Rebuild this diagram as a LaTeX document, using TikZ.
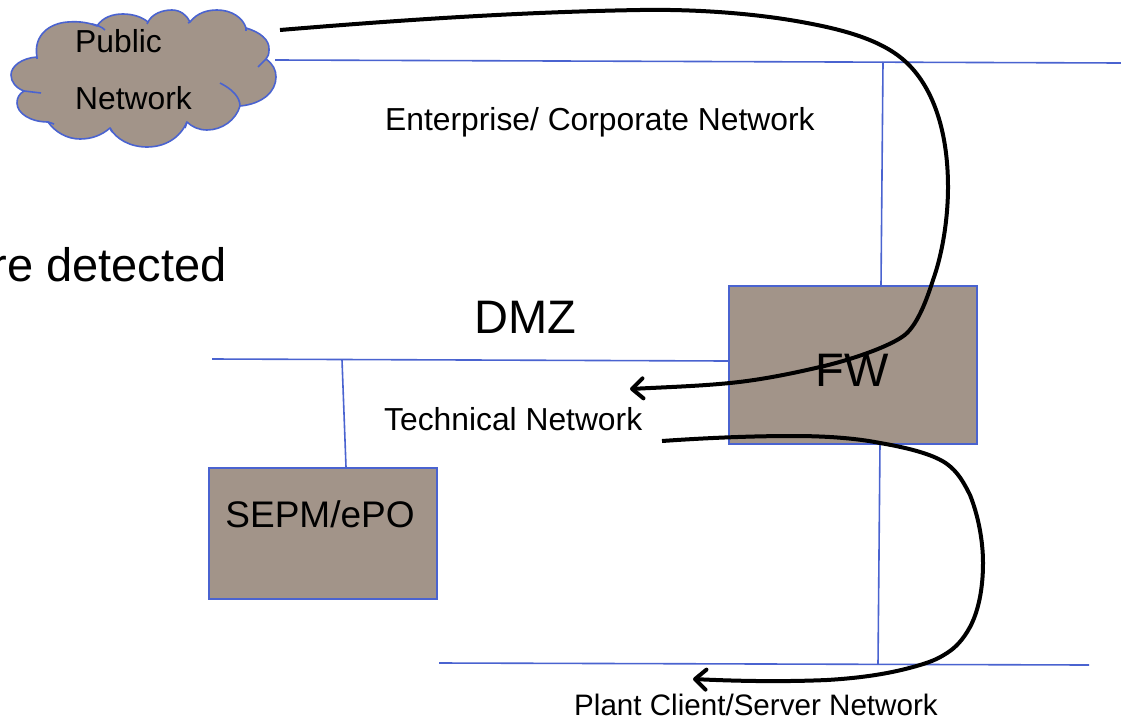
\documentclass[tikz,border=0pt]{standalone}
\usepackage{fontspec}
\setmainfont{Liberation Sans}
\usetikzlibrary{arrows.meta}
\definecolor{boxfill}{HTML}{A29489}
\definecolor{netblue}{HTML}{4A63D0}
\begin{document}
\begin{tikzpicture}[x=1pt,y=-1pt,
  net/.style={draw=netblue,line width=1.6pt},
  box/.style={draw=netblue,line width=2pt,fill=boxfill,anchor=north west,inner sep=0pt},
  flow/.style={draw=black,line width=4pt,-{Straight Barb[length=11pt,width=20pt,line width=4pt,round]}},
  lbl/.style={inner sep=0pt,text=black,font=\fontsize{31.8}{34}\selectfont},
  big/.style={inner sep=0pt,text=black,font=\fontsize{47}{52}\selectfont}]
\useasboundingbox (0,0) rectangle (1121,720);
% coordinates
\coordinate (entA) at (275,60);
\coordinate (entB) at (1121,63);
\coordinate (entT) at (883,62);
\coordinate (dmzA) at (212,359);
\coordinate (dmzT) at (342,360);
\coordinate (plA) at (439,663);
\coordinate (plB) at (1089,665);
\coordinate (plT) at (878,664);
% links
\node[box,minimum width=248pt,minimum height=158pt] (fw) at (728,285) {};
\node[box,minimum width=228pt,minimum height=131pt] (sepm) at (208,467) {};
\draw[net] (entA) -- (entB);
\draw[net] (entT) -- (881,285);
\draw[net] (dmzA) -- (728,361);
\draw[net] (dmzT) -- (346,467);
\draw[net] (880,443) -- (plT);
\draw[net] (plA) -- (plB);
% cloud
\draw[net,fill=boxfill,line join=round]
  (37,57) .. controls (33,35) and (50,23) .. (68,22)
  .. controls (80,21) and (90,23) .. (97,26)
  .. controls (103,17) and (113,14) .. (123,14)
  .. controls (133,14) and (142,17) .. (148,22)
  .. controls (152,14) and (162,10) .. (172,10)
  .. controls (180,10) and (187,15) .. (190,22)
  .. controls (197,13) and (207,10) .. (217,10)
  .. controls (232,10) and (243,18) .. (246,28)
  .. controls (260,32) and (270,40) .. (269,50)
  .. controls (269,54) and (268,57) .. (266,59)
  .. controls (273,64) and (276,70) .. (276,77)
  .. controls (276,92) and (262,104) .. (240,106)
  .. controls (236,120) and (222,130) .. (207,130)
  .. controls (199,130) and (192,127) .. (187,122)
  .. controls (180,138) and (165,147) .. (147,147)
  .. controls (130,147) and (116,139) .. (110,128)
  .. controls (102,135) and (92,139) .. (80,139)
  .. controls (67,139) and (55,132) .. (48,122)
  .. controls (30,122) and (17,113) .. (17,103)
  .. controls (17,98) and (19,94) .. (24,91)
  .. controls (16,88) and (11,82) .. (11,75)
  .. controls (11,66) and (22,58) .. (37,57) -- cycle;
\draw[net] (37,57) -- (37,59);
\draw[net] (92,24) .. controls (97,25) and (102,27) .. (105,30);
\draw[net] (148,22) -- (147,24);
\draw[net] (190,22) -- (188,23);
\draw[net] (246,28) -- (246,31);
\draw[net] (266,59) -- (258,67);
\draw[net] (220,83) .. controls (232,89) and (240,97) .. (240,106);
\draw[net] (187,122) -- (185,128);
\draw[net] (110,128) -- (112,132);
\draw[net] (48,122) -- (54,124);
\draw[net] (24,91) -- (41,93);
% labels
\node[lbl,anchor=base west] (pub) at (75,52) {Public};
\node[lbl,anchor=base west] (netw) at (75,109) {Network};
\node[lbl,anchor=base west] (ent) at (385,130) {Enterprise/ Corporate Network};
\node[big,anchor=base east] (det) at (227,281) {re detected};
\node[big,anchor=base west] (dmz) at (474,333) {DMZ};
\node[lbl,anchor=base west] (tech) at (384,430) {Technical Network};
\node[font=\fontsize{29.6}{32}\selectfont,inner sep=0pt,anchor=base west] (plant) at (574,715.5) {Plant Client/Server Network};
\node[big,anchor=center] (fwl) at (852,370) {FW};
\node[font=\fontsize{37}{40}\selectfont,inner sep=0pt] (sepl) at (320,514) {SEPM/ePO};
% flows
\draw[flow] (280,30) .. controls (400,20) and (520,12) .. (640,10)
  .. controls (700,9) and (760,14) .. (807,23)
  .. controls (850,31) and (885,42) .. (907,63)
  .. controls (935,90) and (948,135) .. (948,187)
  .. controls (948,220) and (942,255) .. (933,280)
  .. controls (926,302) and (918,322) .. (907,333)
  .. controls (896,344) and (855,359) .. (820,367)
  .. controls (790,374) and (760,380) .. (730,383)
  .. controls (700,386) and (670,387) .. (630,389);
\draw[flow] (662,441) .. controls (705,438) and (750,436) .. (793,436)
  .. controls (825,436) and (855,438) .. (880,443)
  .. controls (915,449) and (936,456) .. (947,464)
  .. controls (958,472) and (964,483) .. (970,495)
  .. controls (978,515) and (983,540) .. (983,563)
  .. controls (983,590) and (978,612) .. (970,627)
  .. controls (963,640) and (955,648) .. (947,653)
  .. controls (938,659) and (930,662) .. (920,665)
  .. controls (890,674) and (860,678) .. (827,680)
  .. controls (780,682) and (735,681) .. (693,679);
\end{tikzpicture}
\end{document}
